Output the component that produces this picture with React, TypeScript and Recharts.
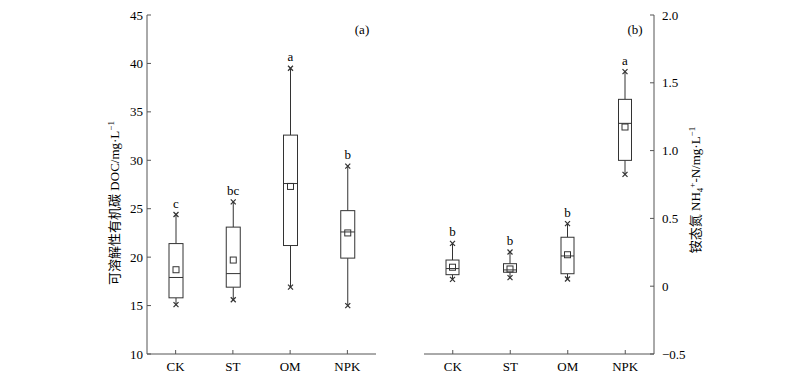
import React from 'react';
import { ComposedChart, Bar, XAxis, YAxis } from 'recharts';

const groups = ['CK', 'ST', 'OM', 'NPK'];

// (a) 可溶解性有机碳 DOC, mg/L
const docMin = [15.1, 15.6, 16.9, 15.0];
const docQ1 = [15.8, 16.9, 21.2, 19.9];
const docMedian = [17.9, 18.3, 27.6, 22.6];
const docQ3 = [21.4, 23.1, 32.6, 24.8];
const docMax = [24.4, 25.7, 39.5, 29.4];
const docMean = [18.7, 19.7, 27.3, 22.5];
const docSig = ['c', 'bc', 'a', 'b'];
const docTicks = [10, 15, 20, 25, 30, 35, 40, 45];

// (b) 铵态氮 NH4+-N, mg/L
const nhMin = [0.05, 0.063, 0.053, 0.825];
const nhQ1 = [0.085, 0.103, 0.092, 0.928];
const nhMedian = [0.13, 0.12, 0.223, 1.201];
const nhQ3 = [0.193, 0.166, 0.361, 1.378];
const nhMax = [0.316, 0.252, 0.461, 1.582];
const nhMean = [0.14, 0.127, 0.232, 1.174];
const nhSig = ['b', 'b', 'b', 'a'];
const nhTicks = [-0.5, 0, 0.5, 1.0, 1.5, 2.0];

const FONT = "'Liberation Serif', 'Times New Roman', 'Noto Sans CJK SC', serif";
const AXIS = '#555';
const INK = '#333';
const TEXT = '#000';

const buildRows = (
  min: number[], q1: number[], med: number[], q3: number[], max: number[], mean: number[], sig: string[],
) =>
  groups.map((name, i) => ({
    name,
    range: [min[i], max[i]],
    min: min[i],
    q1: q1[i],
    median: med[i],
    q3: q3[i],
    max: max[i],
    mean: mean[i],
    sig: sig[i],
  }));

const docRows = buildRows(docMin, docQ1, docMedian, docQ3, docMax, docMean, docSig);
const nhRows = buildRows(nhMin, nhQ1, nhMedian, nhQ3, nhMax, nhMean, nhSig);

// box drawn inside the [min,max] range bar that recharts positions for us
const BoxShape = (props: any) => {
  const { x, y, width, height, payload } = props;
  if (!payload) return null;
  const top = height >= 0 ? y : y + height;
  const h = Math.abs(height);
  const py = (v: number) => top + ((payload.max - v) / (payload.max - payload.min)) * h;
  const cx = x + width / 2;
  const half = width / 2;
  const yMax = py(payload.max);
  const yMin = py(payload.min);
  const yQ3 = py(payload.q3);
  const yQ1 = py(payload.q1);
  const yMed = py(payload.median);
  const yMean = py(payload.mean);
  const cross = (cy: number) => (
    <g stroke={INK} strokeWidth={1.2}>
      <line x1={cx - 2.5} y1={cy - 2.5} x2={cx + 2.5} y2={cy + 2.5} />
      <line x1={cx - 2.5} y1={cy + 2.5} x2={cx + 2.5} y2={cy - 2.5} />
    </g>
  );
  return (
    <g>
      <line x1={cx} y1={yMax} x2={cx} y2={yQ3} stroke={INK} strokeWidth={1} />
      <line x1={cx} y1={yQ1} x2={cx} y2={yMin} stroke={INK} strokeWidth={1} />
      <rect x={cx - half} y={yQ3} width={width} height={yQ1 - yQ3} fill="#fff" stroke={INK} strokeWidth={1} />
      <line x1={cx - half} y1={yMed} x2={cx + half} y2={yMed} stroke={INK} strokeWidth={1} />
      <rect x={cx - 3} y={yMean - 3} width={6} height={6} fill="none" stroke={INK} strokeWidth={1} />
      {cross(yMax)}
      {cross(yMin)}
      <text x={cx} y={yMax - 7} textAnchor="middle" fontSize={13} fontFamily={FONT} fill={TEXT} stroke="none">
        {payload.sig}
      </text>
    </g>
  );
};

const tickStyle = { fontSize: 13, fontFamily: FONT, fill: TEXT };

const fmtNh = (v: number) => (v === 0 ? '0' : v < 0 ? '\u2212' + Math.abs(v).toFixed(1) : v.toFixed(1));

export default function App() {
  return (
    <div style={{ position: 'absolute', left: 0, top: 0, width: 800, height: 385, background: '#fff' }}>
      <div style={{ position: 'absolute', left: 0, top: 0 }}>
        <ComposedChart width={400} height={385} data={docRows} margin={{ top: 15, right: 24, bottom: 6, left: 97 }}>
          <XAxis
            dataKey="name"
            height={25}
            axisLine={{ stroke: AXIS }}
            tickLine={{ stroke: AXIS }}
            tickSize={-4}
            tickMargin={12}
            tick={tickStyle}
          />
          <XAxis xAxisId="frame" dataKey="name" orientation="top" height={0} tick={false} tickLine={false} axisLine={{ stroke: AXIS }} />
          <YAxis
            domain={[10, 45]}
            ticks={docTicks}
            width={50}
            axisLine={{ stroke: AXIS }}
            tickLine={{ stroke: AXIS }}
            tickSize={-4}
            tickMargin={8}
            tick={tickStyle}
            allowDataOverflow
          />
          <YAxis yAxisId="frame" orientation="right" domain={[10, 45]} width={0} tick={false} tickLine={false} axisLine={{ stroke: AXIS }} />
          <Bar dataKey="range" barSize={14} shape={<BoxShape />} isAnimationActive={false} />
          <text x={362} y={34} textAnchor="middle" fontSize={13} fontFamily={FONT} fill={TEXT}>(a)</text>
          <text transform="translate(119,203) rotate(-90)" textAnchor="middle" fontSize={13} fontFamily={FONT} fill={TEXT}>
            可溶解性有机碳 DOC/mg·L
            <tspan dy={-5} fontSize={9}>−1</tspan>
          </text>
        </ComposedChart>
      </div>
      <div style={{ position: 'absolute', left: 400, top: 0 }}>
        <ComposedChart width={400} height={385} data={nhRows} margin={{ top: 15, right: 96, bottom: 6, left: 24 }}>
          <XAxis
            dataKey="name"
            height={25}
            axisLine={{ stroke: AXIS }}
            tickLine={{ stroke: AXIS }}
            tickSize={-4}
            tickMargin={12}
            tick={tickStyle}
          />
          <XAxis xAxisId="frame" dataKey="name" orientation="top" height={0} tick={false} tickLine={false} axisLine={{ stroke: AXIS }} />
          <YAxis
            orientation="right"
            domain={[-0.5, 2]}
            ticks={nhTicks}
            tickFormatter={fmtNh}
            width={50}
            axisLine={{ stroke: AXIS }}
            tickLine={{ stroke: AXIS }}
            tickSize={-4}
            tickMargin={12}
            tick={{ ...tickStyle, textAnchor: 'start' }}
            allowDataOverflow
          />
          <YAxis yAxisId="frame" orientation="left" domain={[-0.5, 2]} width={0} tick={false} tickLine={false} axisLine={{ stroke: AXIS }} />
          <Bar dataKey="range" barSize={13} shape={<BoxShape />} isAnimationActive={false} />
          <text x={235} y={34} textAnchor="middle" fontSize={13} fontFamily={FONT} fill={TEXT}>(b)</text>
          <text transform="translate(300,190) rotate(-90)" textAnchor="middle" fontSize={13} fontFamily={FONT} fill={TEXT}>
            铵态氮 NH
            <tspan dy={3} fontSize={9}>4</tspan>
            <tspan dy={-8} fontSize={9}>+</tspan>
            <tspan dy={5}>-N/mg·L</tspan>
            <tspan dy={-5} fontSize={9}>−1</tspan>
          </text>
        </ComposedChart>
      </div>
    </div>
  );
}
